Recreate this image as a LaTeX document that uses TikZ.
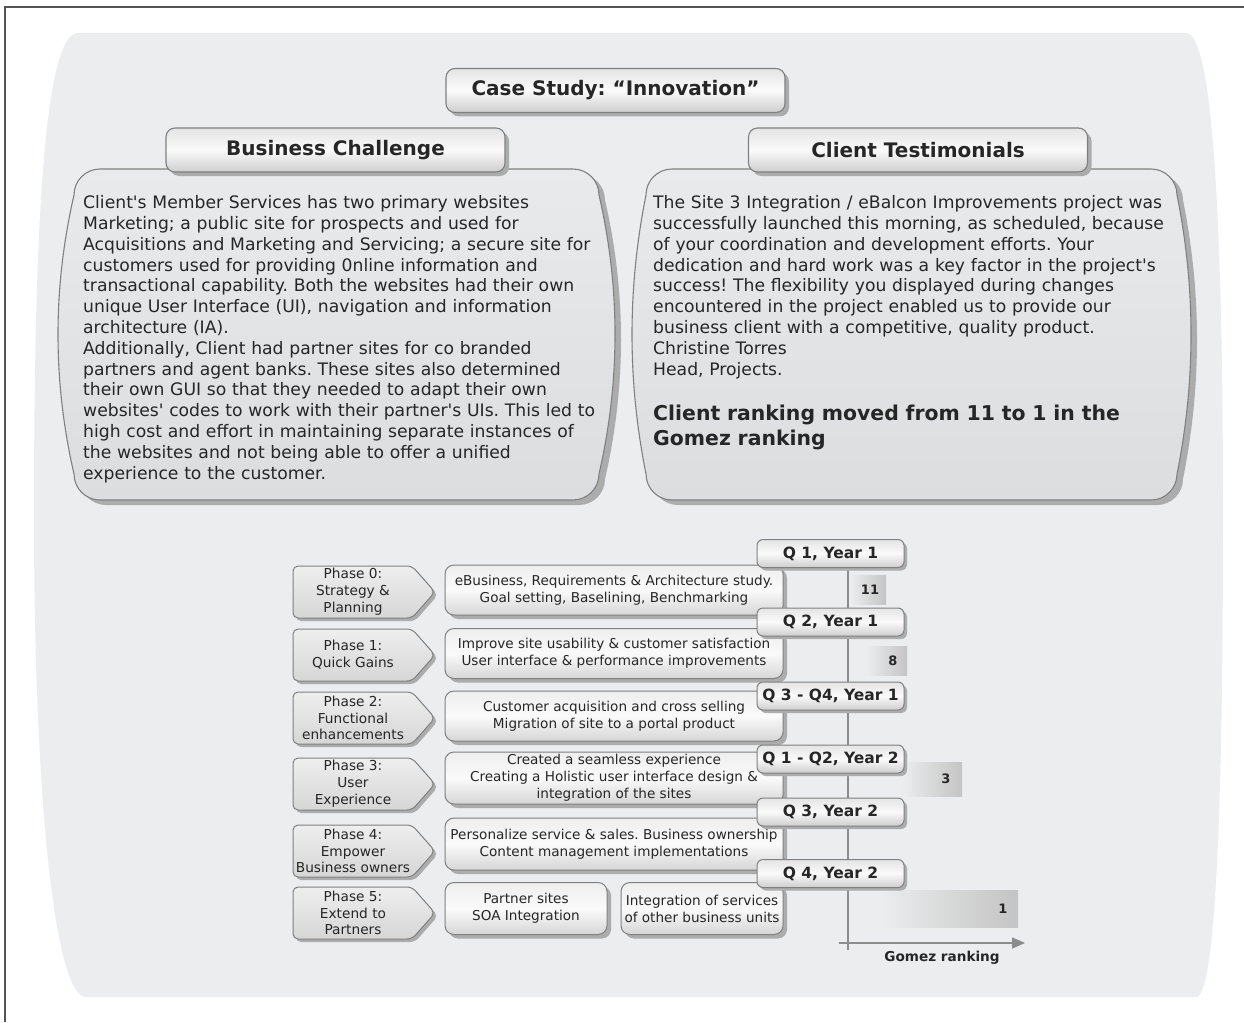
\documentclass[tikz,border=0pt]{standalone}
\usepackage{fontspec}
\setmainfont{DejaVu Sans}[Ligatures=TeXOff]
\usetikzlibrary{arrows.meta,shadows}

\definecolor{pagebg}{RGB}{255,255,255}
\definecolor{bgfill}{RGB}{236,237,238}
\definecolor{frameink}{RGB}{85,85,85}
\definecolor{edge}{RGB}{128,128,128}
\definecolor{shade}{RGB}{172,172,172}
\definecolor{ink}{RGB}{38,38,38}
\definecolor{paneltop}{RGB}{233,234,235}
\definecolor{panelbot}{RGB}{220,221,222}
\definecolor{hdrtop}{RGB}{228,228,228}
\definecolor{hdrmid}{RGB}{250,250,250}
\definecolor{hdrbot}{RGB}{206,206,206}
\definecolor{boxtop}{RGB}{238,238,238}
\definecolor{boxbot}{RGB}{214,214,214}
\definecolor{bargrey}{RGB}{196,196,196}
\definecolor{axisgrey}{RGB}{140,140,140}

\tikzset{
  frameline/.style={draw=frameink, line width=1.3pt},
  softshadow/.style={drop shadow={shadow xshift=#1, shadow yshift=-#1, fill=shade, opacity=1}},
  panel/.style={draw=edge, line width=1.1pt, top color=paneltop, bottom color=panelbot,
    drop shadow={shadow xshift=6pt, shadow yshift=-5pt, fill=shade, opacity=1}},
  header/.style={draw=edge, line width=1.1pt, rounded corners=9pt,
    minimum width=339pt, minimum height=44pt,
    top color=hdrtop, bottom color=hdrbot, middle color=hdrmid,
    softshadow=4pt, text=ink, font=\fontsize{20}{24}\selectfont\bfseries},
  bodytext/.style={anchor=base west, inner sep=0pt, text=ink, align=left,
    text width=540pt, font=\fontsize{17.2}{20.8}\selectfont},
  phaseshape/.style={draw=edge, line width=1pt, rounded corners=5pt,
    top color=boxtop, bottom color=boxbot, softshadow=3pt},
  phasetext/.style={inner sep=0pt, align=center, text=ink,
    font=\fontsize{13.7}{16.8}\selectfont},
  taskbox/.style={draw=edge, line width=1pt, rounded corners=9pt,
    minimum height=50pt, inner sep=0pt, align=center,
    top color=boxtop, bottom color=boxbot, middle color=hdrmid,
    softshadow=4pt, text=ink, font=\fontsize{13.6}{17}\selectfont},
  quarter/.style={draw=edge, line width=1pt, rounded corners=6pt,
    minimum width=147pt, minimum height=28pt, inner sep=0pt,
    top color=hdrtop, bottom color=hdrbot, middle color=hdrmid,
    softshadow=3pt, text=ink, font=\fontsize{15.5}{18}\selectfont\bfseries},
  rankbar/.style={left color=bgfill, right color=bargrey},
  ranknum/.style={inner sep=0pt, text=ink, font=\fontsize{13}{15}\selectfont\bfseries},
  axisline/.style={draw=axisgrey, line width=1.6pt},
}

% panel with softly bulging sides: x1, y1, x2, y2, bulge, corner radius
\newcommand\lenspanel[6]{%
  \pgfmathsetmacro\lpA{#1+#5}%
  \pgfmathsetmacro\lpB{#3-#5}%
  \pgfmathsetmacro\lpK{0.552*#6}%
  \pgfmathsetmacro\lpH{(#4-#2-2*#6)/3}%
  \pgfmathsetmacro\lpL{#1-#5/3}%
  \pgfmathsetmacro\lpR{#3+#5/3}%
  \path[panel] (\lpA+#6,#2) -- (\lpB-#6,#2)
    .. controls (\lpB-#6+\lpK,#2) and (\lpB,#2+#6-\lpK) .. (\lpB,#2+#6)
    .. controls (\lpR,#2+#6+\lpH) and (\lpR,#4-#6-\lpH) .. (\lpB,#4-#6)
    .. controls (\lpB,#4-#6+\lpK) and (\lpB-#6+\lpK,#4) .. (\lpB-#6,#4)
    -- (\lpA+#6,#4)
    .. controls (\lpA+#6-\lpK,#4) and (\lpA,#4-#6+\lpK) .. (\lpA,#4-#6)
    .. controls (\lpL,#4-#6-\lpH) and (\lpL,#2+#6+\lpH) .. (\lpA,#2+#6)
    .. controls (\lpA,#2+#6-\lpK) and (\lpA+#6-\lpK,#2) .. (\lpA+#6,#2) -- cycle;
}

\newcommand\phasechevron[3]{%
  \path[phaseshape] (412,#2-26) -- (293,#2-26) -- (293,#2+26) -- (412,#2+26) -- (435,#2) -- cycle;
  \node[phasetext] (#1) at (353,#2) {#3};
}

\begin{document}
\frenchspacing
\begin{tikzpicture}[x=1pt,y=-1pt]
\useasboundingbox[fill=pagebg] (0,0) rectangle (1244,1022);

% outer frame
\draw[frameline] (5,1022) -- (5,7) -- (1244,7);

% soft grey backdrop
\path[fill=bgfill] (78,33) -- (1186,33)
  .. controls (1214,33) and (1223,240) .. (1223,515)
  .. controls (1223,800) and (1216,997) .. (1196,997)
  -- (86,997)
  .. controls (55,997) and (34,800) .. (34,515)
  .. controls (34,230) and (44,33) .. (78,33) -- cycle;

% ---------- upper panels ----------
\lenspanel{58}{169}{615}{500}{16}{26}
\lenspanel{632}{169}{1191}{500}{14}{26}

\node[header] (title) at (615.5,90.5) {Case Study: “Innovation”};
\node[header] (challenge) at (335.5,150) {Business Challenge};
\node[header] (testimonials) at (918,150) {Client Testimonials};

\node[bodytext] (challengetext) at (83,208.7) {Client's Member Services has two primary websites\\
Marketing; a public site for prospects and used for\\
Acquisitions and Marketing and Servicing; a secure site for\\
customers used for providing 0nline information and\\
transactional capability. Both the websites had their own\\
unique User Interface (UI), navigation and information\\
architecture (IA).\\
Additionally, Client had partner sites for co branded\\
partners and agent banks. These sites also determined\\
their own GUI so that they needed to adapt their own\\
websites' codes to work with their partner's UIs. This led to\\
high cost and effort in maintaining separate instances of\\
the websites and not being able to offer a unified\\
experience to the customer.};

\node[bodytext] (quote) at (653,208.7) {The Site 3 Integration / eBalcon Improvements project was\\
successfully launched this morning, as scheduled, because\\
of your coordination and development efforts. Your\\
dedication and hard work was a key factor in the project's\\
success! The flexibility you displayed during changes\\
encountered in the project enabled us to provide our\\
business client with a competitive, quality product.\\
Christine Torres\\
Head, Projects.};

\node[bodytext, font=\fontsize{20.4}{25}\selectfont\bfseries] (result) at (653,420)
  {Client ranking moved from 11 to 1 in the\\ Gomez ranking};

% ---------- roadmap ----------
\phasechevron{p0}{592}{Phase 0:\\ Strategy \&\\ Planning}
\phasechevron{p1}{655}{Phase 1:\\ Quick Gains}
\phasechevron{p2}{718}{Phase 2:\\ Functional\\ enhancements}
\phasechevron{p3}{784}{Phase 3:\\ User\\ Experience}
\phasechevron{p4}{851}{Phase 4:\\ Empower\\ Business owners}
\phasechevron{p5}{913}{Phase 5:\\ Extend to\\ Partners}

\node[taskbox, minimum width=338pt] (t0) at (614,590)
  {eBusiness, Requirements \& Architecture study.\\ Goal setting, Baselining, Benchmarking};
\node[taskbox, minimum width=338pt] (t1) at (614,653.5)
  {Improve site usability \& customer satisfaction\\ User interface \& performance improvements};
\node[taskbox, minimum width=338pt] (t2) at (614,716)
  {Customer acquisition and cross selling\\ Migration of site to a portal product};
\node[taskbox, minimum width=338pt, minimum height=52pt] (t3) at (614,778)
  {Created a seamless experience\\ Creating a Holistic user interface design \&\\ integration of the sites};
\node[taskbox, minimum width=338pt, minimum height=52pt] (t4) at (614,844)
  {Personalize service \& sales. Business ownership\\ Content management implementations};
\node[taskbox, minimum width=162pt, minimum height=52pt] (t5a) at (526,908.5)
  {Partner sites\\ SOA Integration};
\node[taskbox, minimum width=162pt, minimum height=52pt] (t5b) at (702,908.5)
  {Integration of services\\ of other business units};

% ranking bars
\path[rankbar] (850,575) rectangle (886,604);
\node[ranknum] (r11) at (870,590) {11};
\path[rankbar] (866,646) rectangle (907,675);
\node[ranknum] (r8) at (893,660.5) {8};
\path[rankbar] (902,762) rectangle (962,796);
\node[ranknum] (r3) at (946,779) {3};
\path[rankbar] (880,890) rectangle (1018,927);
\node[ranknum] (r1) at (1003,909) {1};

% axes
\coordinate (axtop) at (848,566);
\coordinate (axbot) at (848,950);
\coordinate (axleft) at (839,943);
\coordinate (axright) at (1025,943);
\draw[axisline] (axtop) -- (axbot);
\draw[axisline, -{Triangle[length=13pt,width=11pt]}] (axleft) -- (axright);
\node[ranknum, font=\fontsize{13.6}{16}\selectfont\bfseries] (axislabel) at (942,958) {Gomez ranking};

% quarter tags
\node[quarter] (q1) at (830.5,553.5) {Q 1, Year 1};
\node[quarter] (q2) at (830.5,622) {Q 2, Year 1};
\node[quarter] (q3) at (830.5,696) {Q 3 - Q4, Year 1};
\node[quarter] (q4) at (830.5,759) {Q 1 - Q2, Year 2};
\node[quarter] (q5) at (830.5,812) {Q 3, Year 2};
\node[quarter] (q6) at (830.5,873.5) {Q 4, Year 2};
\end{tikzpicture}
\end{document}
